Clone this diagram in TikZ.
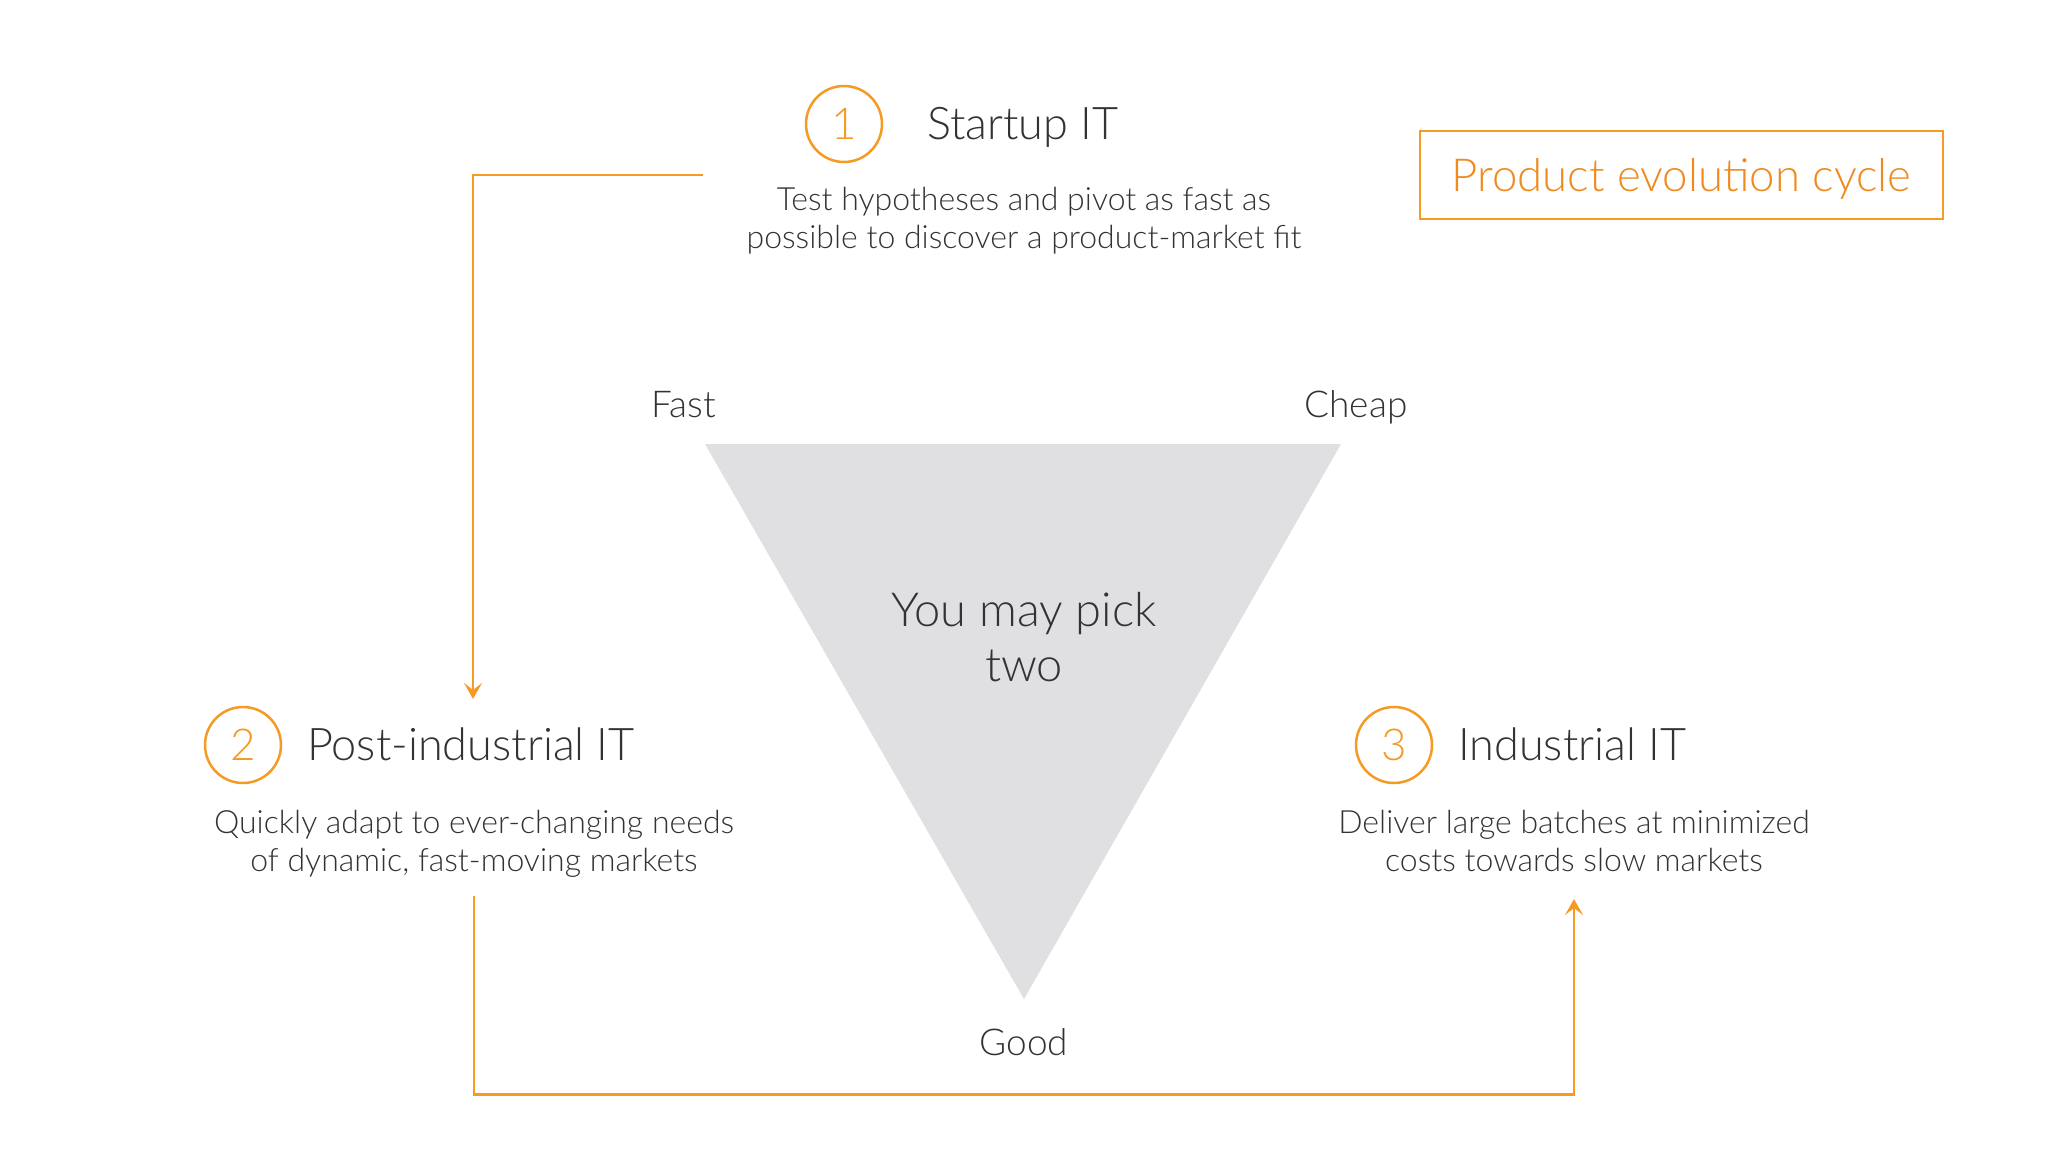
\documentclass[tikz,border=0pt]{standalone}
\usepackage{fontspec}
\setmainfont{Lato Light}
\usetikzlibrary{arrows.meta,positioning}
\definecolor{evoorange}{HTML}{F59B23}
\definecolor{evotext}{HTML}{F08A1C}
\definecolor{inkgrey}{HTML}{333333}
\definecolor{trifill}{HTML}{E0DFE2}
\tikzset{
  num/.style={circle,draw=evoorange,line width=2.5pt,minimum size=76pt,inner sep=0pt,
    text=evoorange,font=\fontsize{44}{50}\selectfont},
  head/.style={anchor=base west,inner sep=0pt,text=inkgrey,font=\fontsize{45}{52}\selectfont},
  desc/.style={align=center,inner sep=0pt,text=inkgrey,font=\fontsize{32}{38}\selectfont},
  corner/.style={anchor=base,inner sep=0pt,text=inkgrey,font=\fontsize{37}{44}\selectfont},
  flow/.style={draw=evoorange,line width=2.2pt,-{Stealth[length=16pt,width=18pt,inset=7pt]}}
}
\begin{document}
\begin{tikzpicture}[x=1pt,y=-1pt]
  \useasboundingbox[fill=white] (0,0) rectangle (2048,1151);
  % the trade-off triangle
  \coordinate (tl) at (705,444);
  \coordinate (tr) at (1341,444);
  \coordinate (bt) at (1024,999);
  \fill[trifill] (tl) -- (tr) -- (bt) -- cycle;
  \node[corner] (fast) at (684,417) {Fast};
  \node[corner] (cheap) at (1356,417) {Cheap};
  \node[corner] (good) at (1024,1055) {Good};
  \node[inner sep=0pt,text=inkgrey,align=center,font=\fontsize{47}{55}\selectfont] (pick) at (1024,637) {You may pick\\two};
  % stages
  \node[num] (c1) at (844,124) {1};
  \node[head] (t1) at (927,139) {Startup IT};
  \node[desc] (d1) at (1024,221) {Test hypotheses and pivot as fast as\\possible to discover a product-market fit};
  \node[num] (c2) at (243,745) {2};
  \node[head] (t2) at (307,760) {Post-industrial IT};
  \node[desc] (d2) at (474,844) {Quickly adapt to ever-changing needs\\of dynamic, fast-moving markets};
  \node[num] (c3) at (1394,745) {3};
  \node[head] (t3) at (1458,760) {Industrial IT};
  \node[desc] (d3) at (1574,841) {Deliver large batches at minimized\\costs towards slow markets};
  % title box
  \node[draw=evoorange,line width=2.5pt,minimum width=523pt,minimum height=88pt,text depth=0pt,
    text=evotext,font=\fontsize{45.5}{52}\selectfont] (box) at (1681.5,175) {Product evolution cycle};
  % cycle arrows
  \coordinate (s1) at (703,175);
  \coordinate (e2) at (473,699);
  \coordinate (s2) at (474,896);
  \coordinate (e3) at (1574,899);
  \draw[flow] (s1) -| (e2);
  \draw[flow] (s2) -- ++(0,198.5) -| (e3);
\end{tikzpicture}
\end{document}
